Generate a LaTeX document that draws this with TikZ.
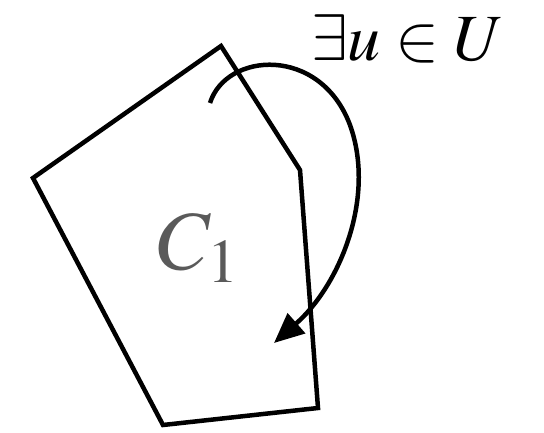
\documentclass[tikz,border=0pt]{standalone}
\usepackage{mathptmx}
\usepackage{tikz}
\usetikzlibrary{arrows.meta}
\definecolor{cellgray}{HTML}{5A5A5A}
\tikzset{
  cell/.style={draw=black,line width=4.5pt,line join=miter},
  move/.style={-{Triangle[length=30pt,width=26pt]},line width=4.5pt},
  lbl/.style={font=\fontsize{66}{70}\selectfont,inner sep=0pt},
}
\begin{document}
\begin{tikzpicture}[x=1pt,y=-1pt]
  \useasboundingbox (0,0) rectangle (544,433);
  % polygon C_1
  \draw[cell] (221,46) -- (300,170) -- (318,408) -- (163,425) -- (33,178) -- cycle;
  \node[lbl,text=cellgray,font=\fontsize{84}{88}\selectfont] (c1) at (198,248) {$C_1$};
  % control action
  \node[lbl] (exu) at (408,39) {$\exists u \in U$};
  \coordinate (from) at (210,103);
  \coordinate (via) at (350,125);
  \coordinate (to) at (274,343);
  \draw[move] (from) .. controls (226,52) and (320,45) .. (via)
    .. controls (376,197) and (340,285) .. (to);
\end{tikzpicture}
\end{document}
